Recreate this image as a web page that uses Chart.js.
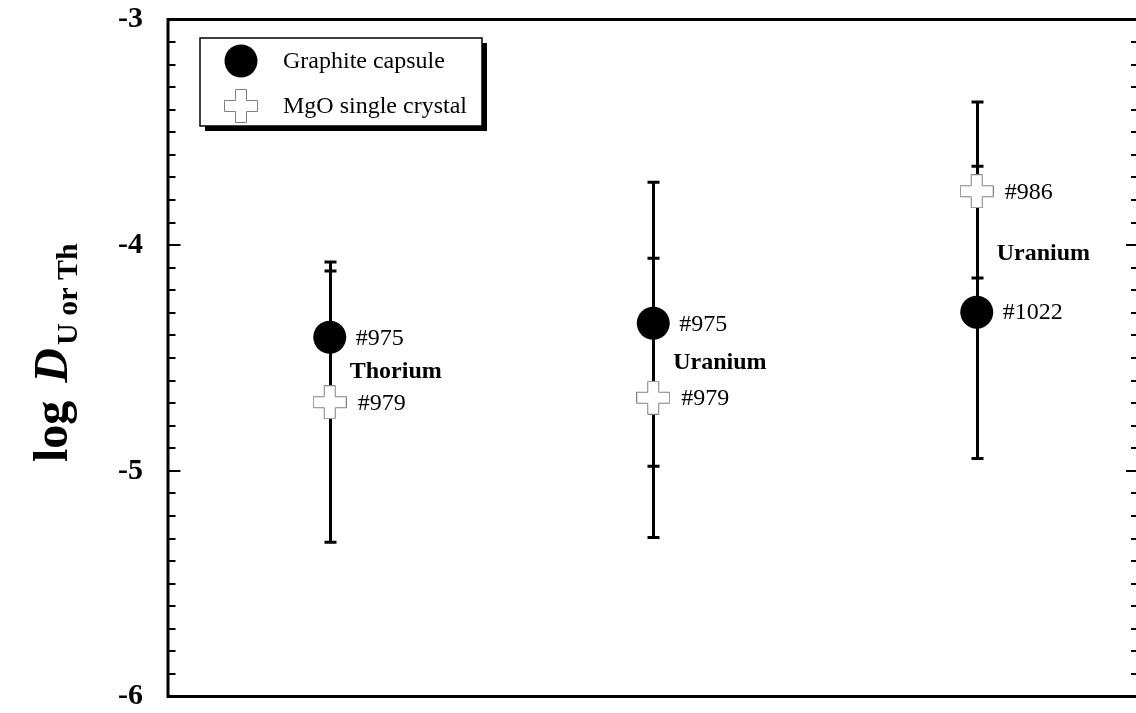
<!DOCTYPE html>
<html>
<head>
<meta charset="utf-8">
<script src="https://cdn.jsdelivr.net/npm/chart.js@4/dist/chart.umd.min.js"></script>
<style>
html,body{margin:0;padding:0;background:#fff;overflow:hidden;width:1136px;height:713px;}
#wrap{width:1146px;height:713px;}
</style>
</head>
<body>
<div id="wrap"><canvas id="c" width="1146" height="713"></canvas></div>
<script>
// ---- data ----
const groupX = [0.5, 1.5, 2.5];
const groupNames = ['Thorium', 'Uranium', 'Uranium'];
const graphiteVals = [-4.408, -4.346, -4.297];
const graphiteLow  = [-4.701, -4.980, -4.945];
const graphiteHigh = [-4.115, -3.721, -3.650];
const graphiteRuns = ['#975', '#975', '#1022'];
const mgoVals = [-4.696, -4.676, -3.761];
const mgoLow  = [-5.317, -5.295, -4.146];
const mgoHigh = [-4.075, -4.058, -3.366];
const mgoRuns = ['#979', '#979', '#986'];
const yTickValues = [-6, -5, -4, -3];
const yTickLabels = ['-6', '-5', '-4', '-3'];
const seriesNames = ['Graphite capsule', 'MgO single crystal'];

const SERIF = '"Liberation Serif", "Times New Roman", serif';

// plus-shaped marker image
function makePlus(size, arm, stroke) {
  const cv = document.createElement('canvas');
  cv.width = size; cv.height = size;
  const g = cv.getContext('2d');
  const o = (size - arm) / 2, a = o + 0.5, b = o + arm - 0.5, s = 0.5, e = size - 0.5;
  g.beginPath();
  g.moveTo(a, s); g.lineTo(b, s); g.lineTo(b, a); g.lineTo(e, a); g.lineTo(e, b);
  g.lineTo(b, b); g.lineTo(b, e); g.lineTo(a, e); g.lineTo(a, b); g.lineTo(s, b);
  g.lineTo(s, a); g.lineTo(a, a); g.closePath();
  g.fillStyle = '#fff'; g.fill();
  g.strokeStyle = stroke; g.lineWidth = 1; g.stroke();
  return cv;
}
const plusImg = makePlus(34, 12, '#808080');

const errorBars = {
  id: 'errorBars',
  beforeDatasetsDraw(chart) {
    const ctx = chart.ctx, xs = chart.scales.x, ys = chart.scales.y;
    ctx.save();
    ctx.strokeStyle = '#000';
    ctx.lineWidth = 3;
    const sets = [[graphiteLow, graphiteHigh], [mgoLow, mgoHigh]];
    sets.forEach(([lo, hi]) => {
      groupX.forEach((gx, i) => {
        const px = Math.round(xs.getPixelForValue(gx)) + 0.5;
        const y1 = ys.getPixelForValue(lo[i]), y2 = ys.getPixelForValue(hi[i]);
        ctx.beginPath(); ctx.moveTo(px, y1); ctx.lineTo(px, y2); ctx.stroke();
        ctx.beginPath();
        ctx.moveTo(px - 6, y1); ctx.lineTo(px + 6, y1);
        ctx.moveTo(px - 6, y2); ctx.lineTo(px + 6, y2);
        ctx.stroke();
      });
    });
    ctx.restore();
  }
};

const decor = {
  id: 'decor',
  afterDraw(chart) {
    const ctx = chart.ctx, ca = chart.chartArea, ys = chart.scales.y, xs = chart.scales.x;
    ctx.save();
    // frame
    ctx.strokeStyle = '#000';
    ctx.lineWidth = 3;
    ctx.beginPath();
    ctx.moveTo(ca.left, ca.top); ctx.lineTo(ca.right, ca.top);
    ctx.moveTo(ca.left, ca.bottom); ctx.lineTo(ca.right, ca.bottom);
    ctx.moveTo(ca.left, ca.top - 1.5); ctx.lineTo(ca.left, ca.bottom + 1.5);
    ctx.moveTo(ca.right, ca.top - 1.5); ctx.lineTo(ca.right, ca.bottom + 1.5);
    ctx.stroke();
    // inward ticks, minor every 0.1, major every 1
    ctx.lineWidth = 2;
    const min = ys.min, max = ys.max;
    const n = Math.round((max - min) * 10);
    for (let k = 1; k < n; k++) {
      const v = min + k / 10;
      const py = Math.round(ys.getPixelForValue(v)) ;
      const major = k % 10 === 0;
      const len = major ? 11 : 6;
      ctx.beginPath();
      ctx.moveTo(ca.left, py); ctx.lineTo(ca.left + 1.5 + len, py);
      ctx.moveTo(ca.right, py); ctx.lineTo(ca.right - 1.5 - len, py);
      ctx.stroke();
    }
    // y title
    ctx.fillStyle = '#000';
    ctx.save();
    ctx.translate(67, 462);
    ctx.rotate(-Math.PI / 2);
    ctx.textBaseline = 'alphabetic';
    ctx.textAlign = 'left';
    ctx.font = 'bold 48px ' + SERIF;
    ctx.fillText('log', 0, 0);
    let w = ctx.measureText('log').width + 18;
    ctx.font = 'italic bold 48px ' + SERIF;
    ctx.fillText('D', w, 0);
    w += ctx.measureText('D').width;
    ctx.font = 'bold 30px ' + SERIF;
    ctx.fillText('U or Th', w + 3, 10);
    ctx.restore();

    // legend
    const lx = 200, ly = 38, lw = 282, lh = 88;
    ctx.fillStyle = '#000';
    ctx.fillRect(lx + 5, ly + 5, lw, lh);
    ctx.fillStyle = '#fff';
    ctx.fillRect(lx, ly, lw, lh);
    ctx.lineWidth = 1.5;
    ctx.strokeStyle = '#000';
    ctx.strokeRect(lx, ly, lw, lh);
    ctx.fillStyle = '#000';
    ctx.beginPath(); ctx.arc(241, 61, 16.5, 0, Math.PI * 2); ctx.fill();
    ctx.drawImage(plusImg, 241 - 17, 106 - 17, 34, 34);
    ctx.font = '24px ' + SERIF;
    ctx.textBaseline = 'middle';
    ctx.textAlign = 'left';
    ctx.fillText(seriesNames[0], 283, 62);
    ctx.fillText(seriesNames[1], 283, 107);

    // point annotations
    groupX.forEach((gx, i) => {
      const px = xs.getPixelForValue(gx);
      const yg = ys.getPixelForValue(graphiteVals[i]);
      const ym = ys.getPixelForValue(mgoVals[i]);
      ctx.font = '24px ' + SERIF;
      ctx.fillText(graphiteRuns[i], px + 26, yg + 1);
      ctx.fillText(mgoRuns[i], px + 28, ym + 1);
      ctx.font = 'bold 24px ' + SERIF;
      ctx.fillText(groupNames[i], px + 20, (yg + ym) / 2 + 2);
    });
    ctx.restore();
  }
};

new Chart(document.getElementById('c'), {
  type: 'scatter',
  data: {
    datasets: [
      {
        label: seriesNames[0],
        data: groupX.map((x, i) => ({ x, y: graphiteVals[i] })),
        pointStyle: 'circle',
        pointRadius: 16.5,
        pointHoverRadius: 16.5,
        backgroundColor: '#000',
        borderColor: '#000',
        borderWidth: 0
      },
      {
        label: seriesNames[1],
        data: groupX.map((x, i) => ({ x, y: mgoVals[i] })),
        pointStyle: plusImg,
        pointRadius: 17,
        pointHoverRadius: 17,
        backgroundColor: '#fff',
        borderColor: '#808080'
      }
    ]
  },
  options: {
    responsive: false,
    animation: false,
    devicePixelRatio: 1,
    events: [],
    layout: { autoPadding: false, padding: { top: 19.5, bottom: 16.5, left: 0, right: 7.5 } },
    plugins: { legend: { display: false }, tooltip: { enabled: false } },
    scales: {
      x: { type: 'linear', min: 0, max: 3, display: false },
      y: {
        type: 'linear', min: -6, max: -3, position: 'left',
        grid: { display: false, drawTicks: false },
        border: { display: false },
        afterFit(scale) { scale.width = 168; scale.paddingTop = 0; scale.paddingBottom = 0; },
        afterBuildTicks(scale) { scale.ticks = yTickValues.map(v => ({ value: v })); },
        ticks: {
          color: '#000',
          padding: 25,
          font: { family: SERIF, size: 30, weight: 'bold', lineHeight: 1 },
          callback: (v) => { const i = yTickValues.indexOf(v); return i >= 0 ? yTickLabels[i] : ''; }
        }
      }
    }
  },
  plugins: [errorBars, decor]
});
</script>
</body>
</html>
